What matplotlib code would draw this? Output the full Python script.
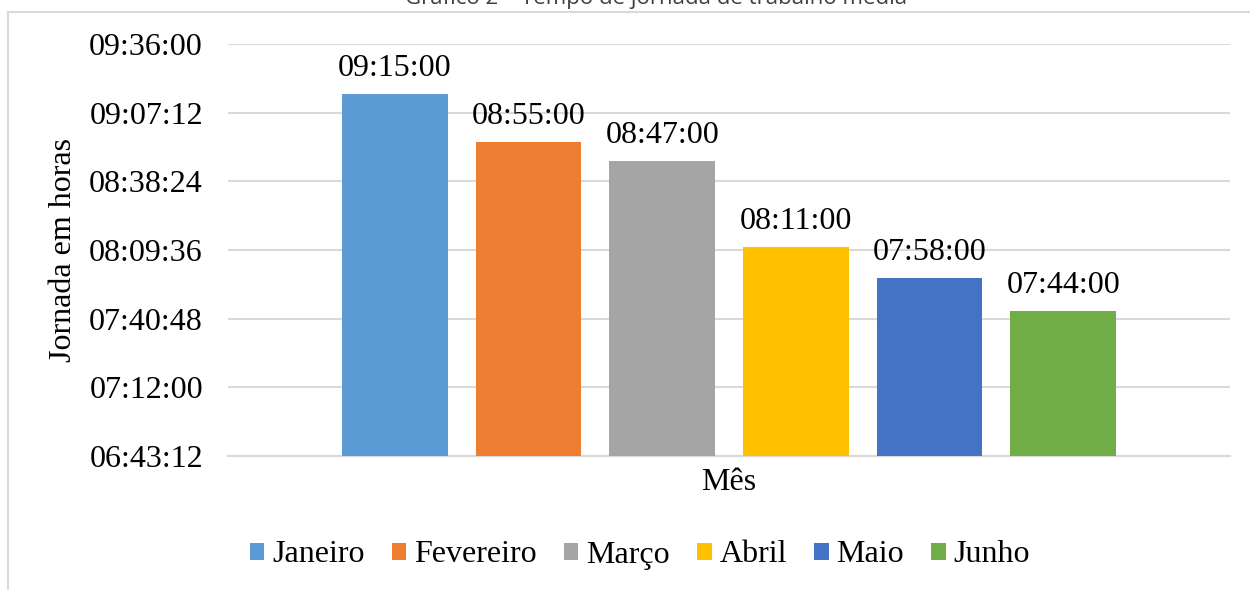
import numpy as np
import matplotlib.pyplot as plt
from matplotlib.lines import Line2D
from matplotlib.ticker import FuncFormatter

months = ["Janeiro", "Fevereiro", "Março", "Abril", "Maio", "Junho"]
durations = ["09:15:00", "08:55:00", "08:47:00", "08:11:00", "07:58:00", "07:44:00"]
colors = ["#5b9bd5", "#ed7d31", "#a5a5a5", "#ffc000", "#4472c4", "#70ad47"]
y_ticks = ["06:43:12", "07:12:00", "07:40:48", "08:09:36", "08:38:24", "09:07:12", "09:36:00"]


def to_sec(s):
    h, m, sec = map(int, s.split(":"))
    return h * 3600 + m * 60 + sec


def to_hms(v, pos=None):
    v = int(round(v))
    return "%02d:%02d:%02d" % (v // 3600, (v % 3600) // 60, v % 60)


values = [to_sec(d) for d in durations]
ticks = [to_sec(t) for t in y_ticks]

serif = "Liberation Serif"
fs = 23
grid_c = "#d9d9d9"

fig = plt.figure(figsize=(12.5, 5.9), dpi=100)
ax = fig.add_axes([228 / 1250, 1 - 456 / 590, 1002 / 1250, 412 / 590])

x = np.arange(len(months))
for i, (m, v, c) in enumerate(zip(months, values, colors)):
    ax.bar(x[i], v - ticks[0], bottom=ticks[0], width=0.79, color=c, label=m, zorder=3)
    ax.text(x[i], v + 280, durations[i], ha="center", va="bottom",
            fontsize=fs, family=serif, zorder=4)

ax.set_ylim(ticks[0], ticks[-1])
ax.set_xlim(2.5 - 3.747, 2.5 + 3.747)
ax.set_yticks(ticks)
ax.yaxis.set_major_formatter(FuncFormatter(to_hms))
ax.set_xticks([])
ax.grid(axis="y", color=grid_c, linewidth=1.5, zorder=0)
for s in ["top", "right", "left"]:
    ax.spines[s].set_visible(False)
ax.spines["bottom"].set_color(grid_c)
ax.spines["bottom"].set_linewidth(1.5)
ax.tick_params(axis="y", length=0, pad=18, labelsize=fs)
for lab in ax.get_yticklabels():
    lab.set_family(serif)

ax.set_ylabel("Jornada em horas", fontsize=fs, family=serif, labelpad=8)
ax.set_xlabel("Mês", fontsize=fs, family=serif, labelpad=9)

fig.legend(loc="center", bbox_to_anchor=(640 / 1250, 1 - 555 / 590), ncol=6,
           frameon=False, prop={"family": serif, "size": fs},
           handlelength=0.45, handleheight=0.45, handletextpad=0.25,
           columnspacing=0.85, borderaxespad=0)

# chart frame (partly cut off like the original screenshot)
fig.add_artist(Line2D([8 / 1250, 8 / 1250], [0, 1 - 12 / 590], color=grid_c, linewidth=1.5))
fig.add_artist(Line2D([8 / 1250, 1], [1 - 12 / 590, 1 - 12 / 590], color=grid_c, linewidth=1.5))

fig.text(656 / 1250, 1 - 4 / 590, "Gráfico 2 – Tempo de jornada de trabalho média",
         ha="center", va="baseline", fontsize=16, family="Open Sans", color="#404040")

fig.savefig("out.png", dpi=100, facecolor="white")
